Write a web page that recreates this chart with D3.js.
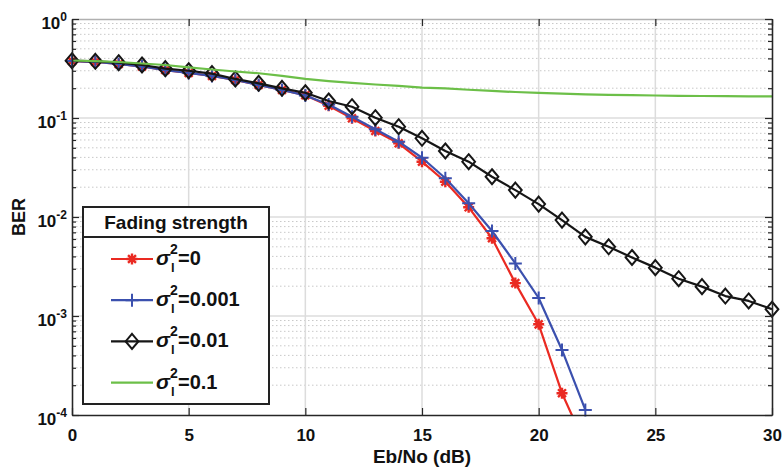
<!DOCTYPE html>
<html>
<head>
<meta charset="utf-8">
<script src="https://cdn.jsdelivr.net/npm/d3@7"></script>
<style>
    body { margin: 0; background: #fff; }
    svg { display: block; font-family: "Liberation Sans", Arial, sans-serif; }
</style>
</head>
<body>
<div id="chart"></div>
<script>
// Eb/No in dB
var ebno = [0, 1, 2, 3, 4, 5, 6, 7, 8, 9, 10, 11, 12, 13, 14, 15, 16, 17, 18, 19, 20,
    21, 22, 23, 24, 25, 26, 27, 28, 29, 30];

// BER for each fading strength
var berS0 = [0.376, 0.368, 0.351, 0.331, 0.305, 0.285, 0.266, 0.242, 0.216, 0.192, 0.170,
    0.133, 0.0993, 0.0739, 0.0555, 0.0362, 0.0227, 0.01253, 0.0061, 0.00215, 0.000824,
    0.000166, 0.00005];
var berS001 = [0.376, 0.368, 0.351, 0.331, 0.305, 0.285, 0.266, 0.242, 0.216, 0.192, 0.169,
    0.137, 0.103, 0.0769, 0.0577, 0.0397, 0.0246, 0.01375, 0.00722, 0.0034, 0.00152,
    0.000454, 0.0001125];
var berS01 = [0.379, 0.374, 0.362, 0.343, 0.315, 0.300, 0.281, 0.248, 0.224, 0.1995, 0.180,
    0.1485, 0.130, 0.1007, 0.0817, 0.0624, 0.0464, 0.0362, 0.0255, 0.0187, 0.0135,
    0.0093, 0.0063, 0.0050, 0.0039, 0.00308, 0.00238, 0.00198, 0.00159, 0.00142, 0.00117];
var berS1 = [0.381, 0.376, 0.368, 0.355, 0.343, 0.324, 0.309, 0.295, 0.283, 0.266, 0.248,
    0.236, 0.226, 0.218, 0.211, 0.203, 0.199, 0.193, 0.1875, 0.183, 0.179, 0.176, 0.1735,
    0.1715, 0.170, 0.1688, 0.1676, 0.1669, 0.166, 0.1656, 0.1656];

var seriesNames = ["0", "0.001", "0.01", "0.1"];
var xTicks = [0, 5, 10, 15, 20, 25, 30];
var yTicks = [1e-4, 1e-3, 1e-2, 1e-1, 1];
var yExponents = ["-4", "-3", "-2", "-1", "0"];

var svgWidth = 782;
var svgHeight = 471;
var margin = { top: 19, right: 10, bottom: 56, left: 72 };
var chartWidth = svgWidth - margin.left - margin.right;
var chartHeight = svgHeight - margin.top - margin.bottom;

var series = [
    { name: seriesNames[0], values: berS0, color: "#ea2a22", marker: "star" },
    { name: seriesNames[1], values: berS001, color: "#3b50ae", marker: "plus" },
    { name: seriesNames[2], values: berS01, color: "#161616", marker: "diamond" },
    { name: seriesNames[3], values: berS1, color: "#6cbf48", marker: "none" }
];

var svg = d3.select("#chart")
    .append("svg")
    .attr("width", svgWidth)
    .attr("height", svgHeight);

var chartGroup = svg.append("g")
    .attr("transform", `translate(${margin.left}, ${margin.top})`);

var xScale = d3.scaleLinear()
    .domain([0, 30])
    .range([0, chartWidth]);

var yScale = d3.scaleLog()
    .domain([1e-4, 1])
    .range([chartHeight, 0]);

// minor values 2..9 per decade
var minorTicks = [];
yTicks.slice(0, 4).forEach(function(d) {
    [2, 3, 4, 5, 6, 7, 8, 9].forEach(function(m) { minorTicks.push(d * m); });
});

// grid
chartGroup.append("g")
    .selectAll("line")
    .data(minorTicks)
    .enter()
    .append("line")
    .attr("x1", 0)
    .attr("x2", chartWidth)
    .attr("y1", d => yScale(d))
    .attr("y2", d => yScale(d))
    .attr("stroke", "#c9c9c9")
    .attr("stroke-width", 1)
    .attr("stroke-dasharray", "1.5,2.5");

chartGroup.append("g")
    .selectAll("line")
    .data(yTicks.slice(1, 4))
    .enter()
    .append("line")
    .attr("x1", 0)
    .attr("x2", chartWidth)
    .attr("y1", d => yScale(d))
    .attr("y2", d => yScale(d))
    .attr("stroke", "#dcdcdc")
    .attr("stroke-width", 1.5);

chartGroup.append("g")
    .selectAll("line")
    .data(xTicks.slice(1, 6))
    .enter()
    .append("line")
    .attr("x1", d => xScale(d))
    .attr("x2", d => xScale(d))
    .attr("y1", 0)
    .attr("y2", chartHeight)
    .attr("stroke", "#dcdcdc")
    .attr("stroke-width", 1.5);

// data
function markerPath(type, r) {
    if (type == "star") {
        var a = r * 0.72;
        return `M${-r},0L${r},0M0,${-r}L0,${r}M${-a},${-a}L${a},${a}M${-a},${a}L${a},${-a}`;
    }
    if (type == "plus") {
        return `M${-r},0L${r},0M0,${-r}L0,${r}`;
    }
    if (type == "diamond") {
        var w = r * 0.85;
        return `M0,${-r}L${w},0L0,${r}L${-w},0Z`;
    }
    return "";
}

var markerSize = { star: 5.5, plus: 6.5, diamond: 7.5, none: 0 };

var line = d3.line()
    .x((d, i) => xScale(ebno[i]))
    .y(d => yScale(d));

chartGroup.append("defs").append("clipPath")
    .attr("id", "lineClip")
    .append("rect")
    .attr("width", chartWidth)
    .attr("height", chartHeight);

var dataGroup = chartGroup.append("g");

series.forEach(function(s) {
    var g = dataGroup.append("g");

    g.append("path")
        .datum(s.values)
        .attr("d", line)
        .attr("clip-path", "url(#lineClip)")
        .attr("fill", "none")
        .attr("stroke", s.color)
        .attr("stroke-width", 2.2)
        .attr("stroke-linejoin", "round");

    if (s.marker != "none") {
        g.selectAll(".mark")
            .data(s.values.filter(d => d >= 1e-4))
            .enter()
            .append("path")
            .attr("transform", (d, i) => `translate(${xScale(ebno[i])}, ${yScale(d)})`)
            .attr("d", markerPath(s.marker, markerSize[s.marker]))
            .attr("fill", "none")
            .attr("stroke", s.color)
            .attr("stroke-width", s.marker == "star" ? 2.4 : 2);
    }
});

// axes
var bottomAxis = d3.axisBottom(xScale)
    .tickValues(xTicks)
    .tickSizeInner(-7)
    .tickSizeOuter(0)
    .tickPadding(14)
    .tickFormat(d3.format("d"));

var topAxis = d3.axisTop(xScale)
    .tickValues(xTicks)
    .tickSizeInner(-7)
    .tickSizeOuter(0)
    .tickFormat("");

var leftAxis = d3.axisLeft(yScale)
    .tickValues(yTicks)
    .tickSizeInner(-7)
    .tickSizeOuter(0)
    .tickPadding(5);

var leftMinor = d3.axisLeft(yScale)
    .tickValues(minorTicks)
    .tickSizeInner(-4)
    .tickSizeOuter(0)
    .tickFormat("");

var rightAxis = d3.axisRight(yScale)
    .tickValues(yTicks)
    .tickSizeInner(-7)
    .tickSizeOuter(0)
    .tickFormat("");

var rightMinor = d3.axisRight(yScale)
    .tickValues(minorTicks)
    .tickSizeInner(-4)
    .tickSizeOuter(0)
    .tickFormat("");

function styleAxis(g, color) {
    g.select(".domain").attr("stroke", color).attr("stroke-width", 1.3);
    g.selectAll(".tick line").attr("stroke", "#262626").attr("stroke-width", 1.2);
}

chartGroup.append("g")
    .attr("transform", `translate(0, ${chartHeight})`)
    .call(bottomAxis)
    .call(g => styleAxis(g, "#262626"))
    .selectAll("text")
    .attr("fill", "#111")
    .attr("font-size", 17)
    .attr("font-weight", "bold");

chartGroup.append("g")
    .call(topAxis)
    .call(g => styleAxis(g, "#b0b0b0"));

chartGroup.append("g")
    .call(leftMinor)
    .call(g => styleAxis(g, "#262626"));

var yAxisGroup = chartGroup.append("g")
    .call(leftAxis)
    .call(g => styleAxis(g, "#262626"));

yAxisGroup.selectAll(".tick text")
    .attr("fill", "#111")
    .attr("font-size", 17)
    .attr("font-weight", "bold")
    .attr("dy", "0.55em")
    .each(function(d, i) {
        var t = d3.select(this);
        t.text("");
        t.append("tspan").text("10");
        t.append("tspan")
            .attr("font-size", 12)
            .attr("dy", -8)
            .text(yExponents[i]);
    });

chartGroup.append("g")
    .attr("transform", `translate(${chartWidth}, 0)`)
    .call(rightMinor)
    .call(g => styleAxis(g, "#262626"));

chartGroup.append("g")
    .attr("transform", `translate(${chartWidth}, 0)`)
    .call(rightAxis)
    .call(g => styleAxis(g, "#262626"));

// axis labels
chartGroup.append("text")
    .attr("x", chartWidth / 2)
    .attr("y", chartHeight + 48)
    .attr("text-anchor", "middle")
    .attr("font-size", 19)
    .attr("font-weight", "bold")
    .attr("fill", "#111")
    .text("Eb/No (dB)");

chartGroup.append("text")
    .attr("transform", "rotate(-90)")
    .attr("x", -chartHeight / 2)
    .attr("y", -47)
    .attr("text-anchor", "middle")
    .attr("font-size", 18)
    .attr("font-weight", "bold")
    .attr("fill", "#111")
    .text("BER");

// legend
var legend = svg.append("g")
    .attr("transform", "translate(83, 207)");

legend.append("rect")
    .attr("width", 186)
    .attr("height", 197)
    .attr("fill", "#fff")
    .attr("stroke", "#222")
    .attr("stroke-width", 2);

legend.append("line")
    .attr("x1", 0)
    .attr("x2", 186)
    .attr("y1", 30)
    .attr("y2", 30)
    .attr("stroke", "#222")
    .attr("stroke-width", 2);

legend.append("text")
    .attr("x", 93)
    .attr("y", 22)
    .attr("text-anchor", "middle")
    .attr("font-size", 19)
    .attr("font-weight", "bold")
    .attr("fill", "#111")
    .text("Fading strength");

var legendItems = legend.selectAll(".item")
    .data(series)
    .enter()
    .append("g")
    .attr("class", "item")
    .attr("transform", (d, i) => `translate(0, ${52 + i * 41.2})`);

legendItems.append("line")
    .attr("x1", 28)
    .attr("x2", 70)
    .attr("stroke", d => d.color)
    .attr("stroke-width", 2.2);

legendItems.append("path")
    .attr("transform", "translate(49, 0)")
    .attr("d", d => markerPath(d.marker, markerSize[d.marker]))
    .attr("fill", "none")
    .attr("stroke", d => d.color)
    .attr("stroke-width", d => d.marker == "star" ? 2.4 : 2);

legendItems.append("text")
    .attr("x", 73)
    .attr("y", 6)
    .attr("font-size", 21)
    .attr("font-style", "italic")
    .attr("font-weight", "bold")
    .attr("fill", "#111")
    .text("σ");

legendItems.append("text")
    .attr("x", 87)
    .attr("y", -5)
    .attr("font-size", 14)
    .attr("font-weight", "bold")
    .attr("fill", "#111")
    .text("2");

legendItems.append("text")
    .attr("x", 88)
    .attr("y", 13)
    .attr("font-size", 13)
    .attr("font-weight", "bold")
    .attr("fill", "#111")
    .text("l");

legendItems.append("text")
    .attr("x", 95)
    .attr("y", 6)
    .attr("font-size", 20)
    .attr("font-weight", "bold")
    .attr("fill", "#111")
    .text(d => "=" + d.name);
</script>
</body>
</html>
